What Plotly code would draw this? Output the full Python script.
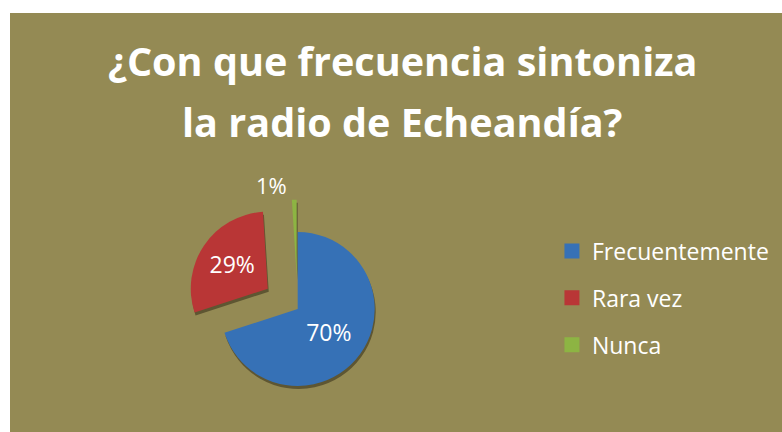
import plotly.graph_objects as go

categories = ["Frecuentemente", "Rara vez", "Nunca"]
values = [70, 29, 1]
colors = ["#3671B6", "#B93636", "#8DB443"]
shadow_color = "#5E5632"
pulls = [0, 0.47, 0.42]
title_lines = ["¿Con que frecuencia sintoniza", "la radio de Echeandía?"]

W, H = 782, 432
ML, MT = 10, 13
PW, PH = W - ML, H - MT
FONT = "Open Sans"

# pie geometry (pixels)
cx, cy, r = 297.7, 309.0, 77.0
half = r * (1 + max(pulls))


def dom(cx_, cy_):
    x0 = (cx_ - half - ML) / PW
    x1 = (cx_ + half - ML) / PW
    y0 = (H - (cy_ + half)) / PH
    y1 = (H - (cy_ - half)) / PH
    return dict(x=[x0, x1], y=[y0, y1])


def py(p):
    return (H - p) / PH


fig = go.Figure()

# shadow pie
fig.add_trace(go.Pie(
    labels=categories, values=values, pull=pulls, sort=False,
    direction="clockwise", rotation=0,
    marker=dict(colors=[shadow_color] * 3, line=dict(width=0)),
    textinfo="none", hoverinfo="skip", showlegend=False,
    domain=dom(cx + 1, cy + 3),
))

fig.add_trace(go.Pie(
    labels=categories, values=values, pull=pulls, sort=False,
    direction="clockwise", rotation=0,
    marker=dict(colors=colors, line=dict(width=0)),
    textinfo="percent", textposition=["inside", "inside", "outside"],
    insidetextorientation="horizontal",
    textfont=dict(family=FONT, size=23, color="white"),
    outsidetextfont=dict(family=FONT, size=22, color="white"),
    insidetextfont=dict(family=FONT, size=23, color="white"),
    showlegend=False,
    domain=dom(cx, cy),
))

# legend entries
for i, (c, col) in enumerate(zip(categories, colors)):
    fig.add_trace(go.Scatter(
        x=[None], y=[None], mode="markers", name=c,
        marker=dict(symbol="square", size=15, color=col),
        legendgroup=f"g{i}", showlegend=True, hoverinfo="skip",
    ))

annotations = []
for line, ypix in zip(title_lines, [61, 122]):
    annotations.append(dict(
        text=line, xref="paper", yref="paper", x=(402 - ML) / PW, y=py(ypix),
        xanchor="center", yanchor="middle", showarrow=False,
        font=dict(family=FONT, size=39.6, color="white", weight="bold"),
    ))

fig.update_layout(
    width=W, height=H,
    margin=dict(l=ML, r=0, t=MT, b=0, autoexpand=False),
    paper_bgcolor="white",
    plot_bgcolor="rgba(0,0,0,0)",
    xaxis=dict(visible=False),
    yaxis=dict(visible=False),
    annotations=annotations,
    legend=dict(
        x=0.702, y=py(298), xanchor="left", yanchor="middle",
        font=dict(family=FONT, size=23, color="white"),
        bgcolor="rgba(0,0,0,0)", tracegroupgap=14,
    ),
    shapes=[dict(type="rect", xref="paper", yref="paper", x0=0, x1=1, y0=0, y1=1,
                 fillcolor="#948A54", line=dict(width=0), layer="below")],
)

fig.write_html(
    "out.html",
    config={"displayModeBar": False},
    post_script="document.body.style.margin='0';document.body.style.overflow='hidden';",
)
